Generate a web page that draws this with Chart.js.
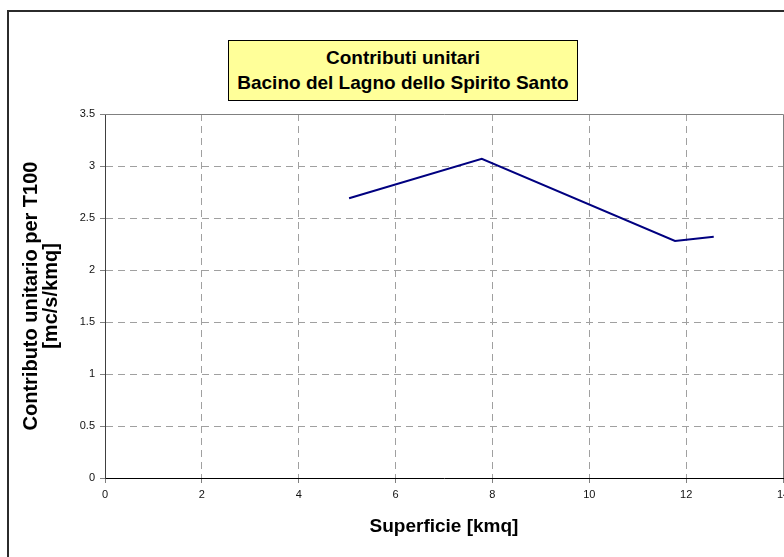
<!DOCTYPE html>
<html>
<head>
<meta charset="utf-8">
<script src="https://cdn.jsdelivr.net/npm/chart.js@4/dist/chart.umd.min.js"></script>
<style>
  html, body { margin: 0; padding: 0; background: #fff; overflow: hidden; }
  #wrap { position: relative; width: 784px; height: 557px; overflow: hidden; }
  #frame { position: absolute; left: 7px; top: 10px; width: 820px; height: 600px; border: 2px solid #2b2b2b; box-sizing: border-box; pointer-events: none; }
  #title { position: absolute; left: 228px; top: 40px; width: 350px; height: 61px; box-sizing: border-box;
           background: #ffff99; border: 1px solid #000; font: bold 19px "Liberation Sans", Arial, sans-serif;
           text-align: center; line-height: 25px; padding-top: 4px; color: #000; }
  canvas { position: absolute; left: 0; top: 0; }
</style>
</head>
<body>
<div id="wrap">
  <canvas id="c" width="784" height="557"></canvas>
  <div id="frame"></div>
  <div id="title">Contributi unitari<br>Bacino del Lagno dello Spirito Santo</div>
</div>
<script>
const superficie = [5.04, 7.78, 11.77, 12.57];
const contributo = [2.69, 3.07, 2.28, 2.32];
const xTitle = "Superficie [kmq]";
const yTitle = ["Contributo unitario per T100", "[mc/s/kmq]"];

const points = superficie.map((x, i) => ({ x: x, y: contributo[i] }));

const plotBorder = {
  id: 'plotBorder',
  afterDraw(chart) {
    const { ctx, chartArea: a } = chart;
    ctx.save();
    ctx.strokeStyle = '#808080';
    ctx.lineWidth = 1;
    ctx.beginPath();
    ctx.moveTo(a.left, a.top + 0.5);
    ctx.lineTo(a.right + 0.5, a.top + 0.5);
    ctx.lineTo(a.right + 0.5, a.bottom);
    ctx.stroke();
    ctx.restore();
  }
};

new Chart(document.getElementById('c'), {
  type: 'line',
  data: {
    datasets: [{
      data: points,
      borderColor: '#000080',
      borderWidth: 2,
      pointRadius: 0,
      fill: false,
      tension: 0
    }]
  },
  options: {
    responsive: false,
    animation: false,
    events: [],
    layout: { padding: { top: 114, right: 1, bottom: 0, left: 0 } },
    plugins: { legend: { display: false }, tooltip: { enabled: false }, title: { display: false } },
    scales: {
      x: {
        type: 'linear', min: 0, max: 14,
        ticks: { stepSize: 2, color: '#111', padding: 5, maxRotation: 0,
                 callback: (v) => String(v),
                 font: { family: '"Liberation Sans", Arial, sans-serif', size: 11 } },
        grid: {
          color: (c) => (c.tick && (c.tick.value === 0 || c.tick.value === 14)) ? 'rgba(0,0,0,0)' : '#a0a0a0',
          tickColor: '#808080', tickLength: 5, drawTicks: true
        },
        border: { display: true, color: '#000', width: 1, dash: [7, 5] },
        title: { display: true, text: xTitle, color: '#000', padding: { top: 0, bottom: 19 },
                 font: { family: '"Liberation Sans", Arial, sans-serif', size: 19, weight: 'bold', lineHeight: 1.2 } },
        afterFit: (s) => { s.height = 79; s.paddingLeft = 0; s.paddingRight = 0; }
      },
      y: {
        min: 0, max: 3.5,
        ticks: { stepSize: 0.5, color: '#111', padding: 5,
                 callback: (v) => String(v),
                 font: { family: '"Liberation Sans", Arial, sans-serif', size: 11 } },
        grid: {
          color: (c) => (c.tick && (c.tick.value === 0 || c.tick.value === 3.5)) ? 'rgba(0,0,0,0)' : '#a0a0a0',
          tickColor: '#808080', tickLength: 5
        },
        border: { display: true, color: '#404040', width: 1, dash: [7, 5] },
        title: { display: true, text: yTitle, color: '#000', padding: { top: 21, bottom: 0 },
                 font: { family: '"Liberation Sans", Arial, sans-serif', size: 20, weight: 'bold', lineHeight: 1.0 } },
        afterFit: (s) => { s.width = 105; }
      }
    }
  },
  plugins: [plotBorder]
});
</script>
</body>
</html>
